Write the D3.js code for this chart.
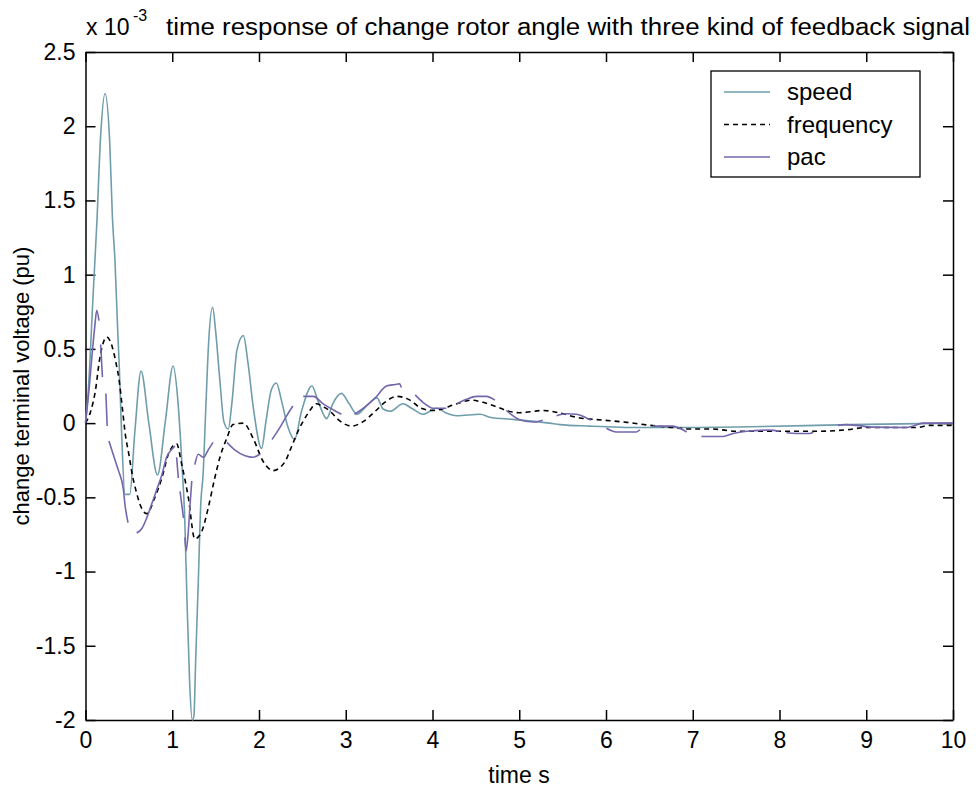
<!DOCTYPE html>
<html>
<head>
<meta charset="utf-8">
<script src="https://cdn.jsdelivr.net/npm/d3@7"></script>
<style>
  body { margin: 0; background: #fff; }
  svg { display: block; }
  text { font-family: Arial, "Liberation Sans", sans-serif; fill: #000; }
</style>
</head>
<body>
<div id="chart"></div>
<script>
// values in units of 1e-3 pu
const speedT = [0, 0.03, 0.09, 0.13, 0.175, 0.225, 0.28, 0.31, 0.34, 0.37, 0.39, 0.415, 0.455, 0.51, 0.57, 0.64, 0.73, 0.83, 0.92, 1.01, 1.065, 1.11, 1.145, 1.17, 1.2, 1.23, 1.25, 1.27, 1.3, 1.33, 1.355, 1.39, 1.42, 1.465, 1.5, 1.55, 1.595, 1.645, 1.69, 1.745, 1.82, 1.87, 1.94, 2.03, 2.08, 2.14, 2.2, 2.26, 2.33, 2.41, 2.49, 2.61, 2.68, 2.78, 2.85, 2.95, 3.04, 3.13, 3.23, 3.36, 3.43, 3.51, 3.66, 3.76, 3.89, 4.05, 4.15, 4.28, 4.55, 4.66, 4.93, 5.35, 5.47, 5.81, 6.39, 6.77, 7.66, 8.81, 10];
const speedV = [0, 0.2, 0.89, 1.34, 1.94, 2.22, 1.88, 1.39, 1.09, 0.64, 0.37, -0.05, -0.48, -0.48, -0.05, 0.35, 0.0, -0.35, 0.01, 0.385, 0.15, -0.26, -0.66, -1.2, -1.74, -2.0, -1.97, -1.6, -1.07, -0.53, -0.35, 0.15, 0.55, 0.78, 0.62, 0.28, 0.01, -0.04, 0.15, 0.49, 0.59, 0.42, 0.08, -0.17, 0.01, 0.22, 0.27, 0.15, -0.02, -0.11, 0.08, 0.25, 0.15, 0.03, 0.13, 0.2, 0.13, 0.06, 0.11, 0.17, 0.095, 0.08, 0.13, 0.1, 0.06, 0.1, 0.07, 0.05, 0.06, 0.04, 0.025, 0.0, -0.01, -0.02, -0.03, -0.03, -0.025, -0.01, 0.0];

const freqT = [0, 0.06, 0.12, 0.155, 0.19, 0.245, 0.31, 0.35, 0.385, 0.425, 0.46, 0.5, 0.54, 0.58, 0.63, 0.705, 0.8, 0.88, 0.955, 1.05, 1.11, 1.185, 1.26, 1.34, 1.415, 1.49, 1.55, 1.63, 1.7, 1.82, 1.93, 2.05, 2.16, 2.3, 2.36, 2.47, 2.57, 2.66, 2.74, 2.82, 2.91, 3.07, 3.2, 3.34, 3.45, 3.59, 3.74, 3.87, 4.01, 4.28, 4.45, 4.58, 4.74, 4.85, 5.0, 5.28, 5.41, 5.7, 5.97, 6.24, 6.51, 6.77, 6.96, 7.23, 7.5, 7.81, 8.16, 8.46, 8.77, 9.0, 9.58, 9.73, 10];
const freqV = [0, 0.08, 0.24, 0.4, 0.51, 0.58, 0.51, 0.41, 0.3, 0.1, -0.08, -0.21, -0.35, -0.45, -0.55, -0.61, -0.5, -0.37, -0.21, -0.14, -0.28, -0.5, -0.78, -0.73, -0.57, -0.37, -0.23, -0.1, -0.01, 0.0, -0.1, -0.26, -0.32, -0.26, -0.18, -0.03, 0.07, 0.13, 0.11, 0.08, 0.025, -0.02, 0.01, 0.08, 0.14, 0.18, 0.155, 0.1, 0.085, 0.13, 0.155, 0.14, 0.11, 0.085, 0.07, 0.085, 0.075, 0.035, 0.02, 0.005, -0.015, -0.03, -0.04, -0.04, -0.055, -0.055, -0.055, -0.055, -0.045, -0.03, -0.03, -0.015, -0.015];

// pac is drawn in broken pieces, null marks a break
const pacT = [0, 0.04, 0.08, 0.105, 0.13, 0.155, null,
  0.175, 0.195, null,
  0.235, 0.25, null,
  0.27, 0.33, 0.38, 0.435, 0.455, 0.49, null,
  0.59, 0.65, 0.705, 0.76, 0.82, 0.88, 0.935, 0.99, 1.03, null,
  1.05, 1.07, null,
  1.09, 1.13, null,
  1.145, 1.16, 1.185, 1.205, 1.225, null,
  1.26, 1.3, 1.36, 1.415, 1.47, null,
  1.63, 1.72, 1.84, 1.93, 2.01, null,
  2.15, 2.24, 2.32, 2.39, null,
  2.51, 2.625, 2.74, 2.855, 2.95, null,
  3.1, 3.2, 3.34, 3.47, 3.57, 3.62, 3.64, null,
  3.8, 3.89, 4.01, 4.16, null,
  4.28, 4.39, 4.51, 4.62, 4.72, null,
  4.85, 5.0, 5.16, 5.27, null,
  5.43, 5.545, 5.66, 5.775, 5.83, null,
  6.005, 6.12, 6.35, 6.39, null,
  6.54, 6.77, 6.87, 6.93, null,
  7.1, 7.35, 7.465, 7.62, 7.89, 8.0, null,
  8.08, 8.195, 8.35, 8.39, null,
  8.675, 8.77, 8.885, 9.08, 9.46, 9.54, 9.65, 10];
const pacV = [0, 0.22, 0.49, 0.64, 0.76, 0.69, null,
  0.53, 0.31, null,
  0.2, -0.02, null,
  -0.12, -0.23, -0.32, -0.44, -0.55, -0.67, null,
  -0.74, -0.71, -0.64, -0.55, -0.45, -0.35, -0.23, -0.18, -0.155, null,
  -0.23, -0.37, null,
  -0.46, -0.64, null,
  -0.77, -0.86, -0.73, -0.55, -0.39, null,
  -0.28, -0.21, -0.23, -0.18, -0.13, null,
  -0.13, -0.18, -0.22, -0.23, -0.21, null,
  -0.11, -0.03, 0.05, 0.115, null,
  0.18, 0.18, 0.13, 0.09, 0.06, null,
  0.06, 0.1, 0.17, 0.25, 0.26, 0.265, 0.24, null,
  0.19, 0.14, 0.1, 0.1, null,
  0.13, 0.16, 0.18, 0.18, 0.155, null,
  0.085, 0.025, 0.007, 0.02, null,
  0.05, 0.063, 0.06, 0.035, 0.02, null,
  -0.035, -0.06, -0.06, -0.045, null,
  -0.02, -0.02, -0.04, -0.06, null,
  -0.09, -0.09, -0.07, -0.055, -0.047, -0.055, null,
  -0.065, -0.07, -0.07, -0.06, null,
  -0.015, -0.01, -0.015, -0.027, -0.03, -0.02, 0.0, 0.0];

const xTicks = [0, 1, 2, 3, 4, 5, 6, 7, 8, 9, 10];
const yTicks = [-2, -1.5, -1, -0.5, 0, 0.5, 1, 1.5, 2, 2.5];
const seriesNames = ["speed", "frequency", "pac"];
const seriesColors = ["#6f9dab", "#000000", "#7466ad"];

const W = 976, H = 787;
const svg = d3.select("#chart").append("svg")
  .attr("width", W).attr("height", H);

const x = d3.scaleLinear().domain([0, 10]).range([85.5, 953]);
const y = d3.scaleLinear().domain([-2, 2.5]).range([720, 52]);

// axes (ticks point inward like matlab)
svg.append("g")
  .attr("transform", `translate(0,${y(-2)})`)
  .call(d3.axisBottom(x).tickValues(xTicks).tickSizeInner(-10).tickSizeOuter(0).tickPadding(12).tickFormat(d => String(d)))
  .call(g => g.selectAll("text").style("font-size", "23px"));

svg.append("g")
  .attr("transform", `translate(${x(0)},0)`)
  .call(d3.axisLeft(y).tickValues(yTicks).tickSizeInner(-10).tickSizeOuter(0).tickPadding(10).tickFormat(d => String(d)))
  .call(g => g.selectAll("text").style("font-size", "23px"));

svg.append("g")
  .attr("transform", `translate(0,${y(2.5)})`)
  .call(d3.axisTop(x).tickValues(xTicks).tickSizeInner(-10).tickSizeOuter(0).tickFormat(""));

svg.append("g")
  .attr("transform", `translate(${x(10)},0)`)
  .call(d3.axisRight(y).tickValues(yTicks).tickSizeInner(-10).tickSizeOuter(0).tickFormat(""));

svg.selectAll(".domain").attr("stroke", "#000").attr("stroke-width", 1.5);
svg.selectAll(".tick line").attr("stroke", "#000").attr("stroke-width", 1.5);

const line = d3.line()
  .defined(d => d[1] !== null)
  .curve(d3.curveMonotoneX)
  .x(d => x(d[0]))
  .y(d => y(d[1]));

const zip = (ts, vs) => ts.map((t, i) => [t, vs[i]]);

svg.append("path")
  .datum(zip(speedT, speedV))
  .attr("fill", "none")
  .attr("stroke", seriesColors[0])
  .attr("stroke-width", 1.6)
  .attr("d", line);

svg.append("path")
  .datum(zip(freqT, freqV))
  .attr("fill", "none")
  .attr("stroke", seriesColors[1])
  .attr("stroke-width", 1.6)
  .attr("stroke-dasharray", "5,4")
  .attr("d", line);

svg.append("path")
  .datum(zip(pacT, pacV))
  .attr("fill", "none")
  .attr("stroke", seriesColors[2])
  .attr("stroke-width", 1.6)
  .attr("d", line);

// title with exponent
svg.append("text").attr("x", 86).attr("y", 35).style("font-size", "23px").text("x 10");
svg.append("text").attr("x", 133).attr("y", 21).style("font-size", "16px").text("-3");
svg.append("text").attr("x", 166).attr("y", 35).style("font-size", "23px")
  .attr("textLength", 804).attr("lengthAdjust", "spacingAndGlyphs")
  .text("time response of change rotor angle with three kind of feedback signal");

// axis labels
svg.append("text")
  .attr("x", 519).attr("y", 783)
  .attr("text-anchor", "middle")
  .style("font-size", "23px")
  .text("time s");

svg.append("text")
  .attr("transform", "translate(29,386) rotate(-90)")
  .attr("text-anchor", "middle")
  .style("font-size", "22px")
  .text("change terminal voltage (pu)");

// legend
const legend = svg.append("g");
legend.append("rect")
  .attr("x", 711).attr("y", 71).attr("width", 209).attr("height", 106)
  .attr("fill", "#fff").attr("stroke", "#000").attr("stroke-width", 1.3);

const legendRows = legend.selectAll(".row")
  .data(seriesNames)
  .enter().append("g")
  .attr("class", "row")
  .attr("transform", (d, i) => `translate(0,${92 + i * 32.5})`);

legendRows.append("line")
  .attr("x1", 724).attr("x2", 770)
  .attr("stroke", (d, i) => seriesColors[i])
  .attr("stroke-width", 1.6)
  .attr("stroke-dasharray", (d, i) => i === 1 ? "5,4" : null);

legendRows.append("text")
  .attr("x", 787).attr("y", 8)
  .style("font-size", "24px")
  .text(d => d);
</script>
</body>
</html>
